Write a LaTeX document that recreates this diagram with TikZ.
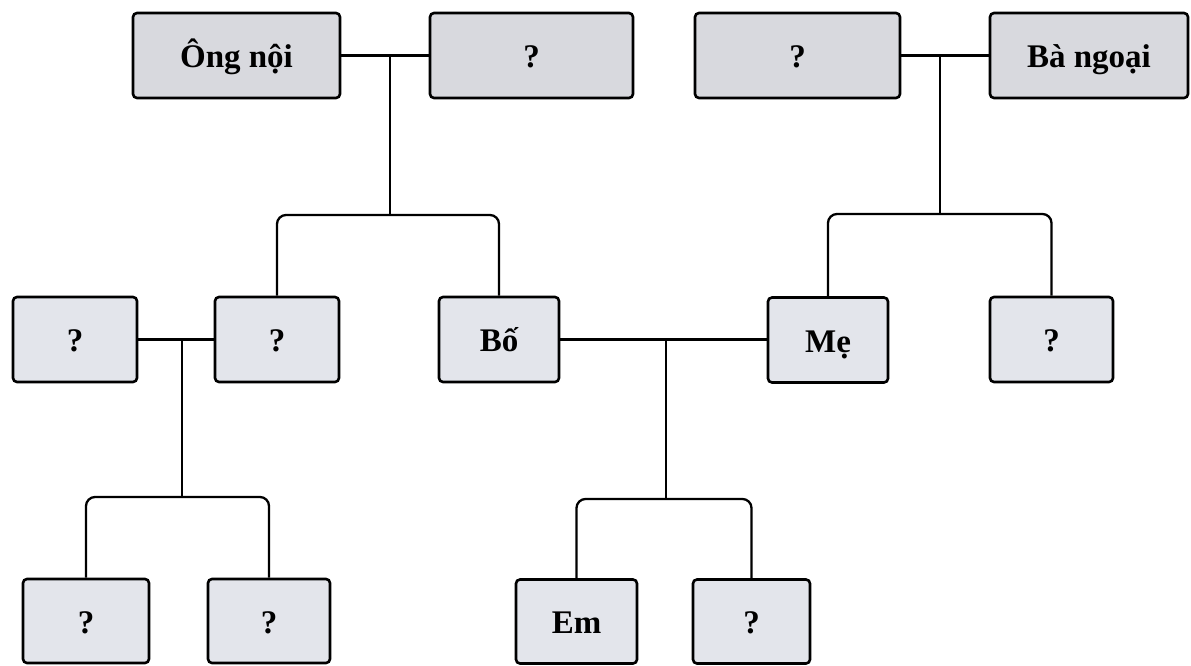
\documentclass[tikz,border=0pt]{standalone}
\usepackage{fontspec}
\setmainfont{Liberation Serif}
\definecolor{topfill}{HTML}{D8D9DE}
\definecolor{boxfill}{HTML}{E3E5EB}
\tikzset{
  person/.style={draw=black, line width=2.6pt, rounded corners=4pt, fill=boxfill,
    minimum height=85pt, inner sep=0pt, text height=30pt, text depth=6pt,
    font=\fontsize{33}{36}\selectfont\bfseries},
  topperson/.style={person, fill=topfill},
  conn/.style={draw=black, line width=2.3pt},
  branch/.style={conn, rounded corners=9pt}
}
\begin{document}
\begin{tikzpicture}[x=1pt,y=-1pt]
\useasboundingbox (0,0) rectangle (1191,665);
% top row
\node[topperson, minimum width=207pt] (ongnoi) at (236.5,55.5) {Ông nội};
\node[topperson, minimum width=203pt] (q1) at (531.5,55.5) {?};
\node[topperson, minimum width=205pt] (q2) at (797.5,55.5) {?};
\node[topperson, minimum width=198pt] (bangoai) at (1089,55.5) {Bà ngoại};
% middle row
\node[person, minimum width=124pt] (qa) at (75,339.5) {?};
\node[person, minimum width=124pt] (qb) at (277,339.5) {?};
\node[person, minimum width=120pt] (bo) at (499,339.5) {Bố};
\node[person, minimum width=120pt] (me) at (828,340) {Mẹ};
\node[person, minimum width=123pt] (qc) at (1051.5,339.5) {?};
% bottom row
\node[person, minimum width=126pt, minimum height=84pt] (qd) at (86,621) {?};
\node[person, minimum width=122pt, minimum height=84pt] (qe) at (269,621) {?};
\node[person, minimum width=121pt, minimum height=84pt] (em) at (576.5,621.5) {Em};
\node[person, minimum width=117pt, minimum height=84pt] (qf) at (751.5,621.5) {?};
% junction coordinates
\coordinate (j1) at (390,55.5);
\coordinate (s1) at (390,215);
\coordinate (j2) at (940,55.5);
\coordinate (s2) at (940,214);
\coordinate (j3) at (182,340);
\coordinate (s3) at (182,497);
\coordinate (j4) at (666,341);
\coordinate (s4) at (666,499);
% connectors
\draw[conn] (ongnoi.east) -- (q1.west);
\draw[conn] (j1) -- (s1);
\draw[branch] (qb.north) |- (s1) -| (bo.north);
\draw[conn] (q2.east) -- (bangoai.west);
\draw[conn] (j2) -- (s2);
\draw[branch] (me.north) |- (s2) -| (qc.north);
\draw[conn] (qa.east) -- (qb.west);
\draw[conn] (j3) -- (s3);
\draw[branch] (qd.north) |- (s3) -| (qe.north);
\draw[conn] (bo.east) -- (bo.east -| me.west);
\draw[conn] (j4) -- (s4);
\draw[branch] (em.north) |- (s4) -| (qf.north);
\end{tikzpicture}
\end{document}
